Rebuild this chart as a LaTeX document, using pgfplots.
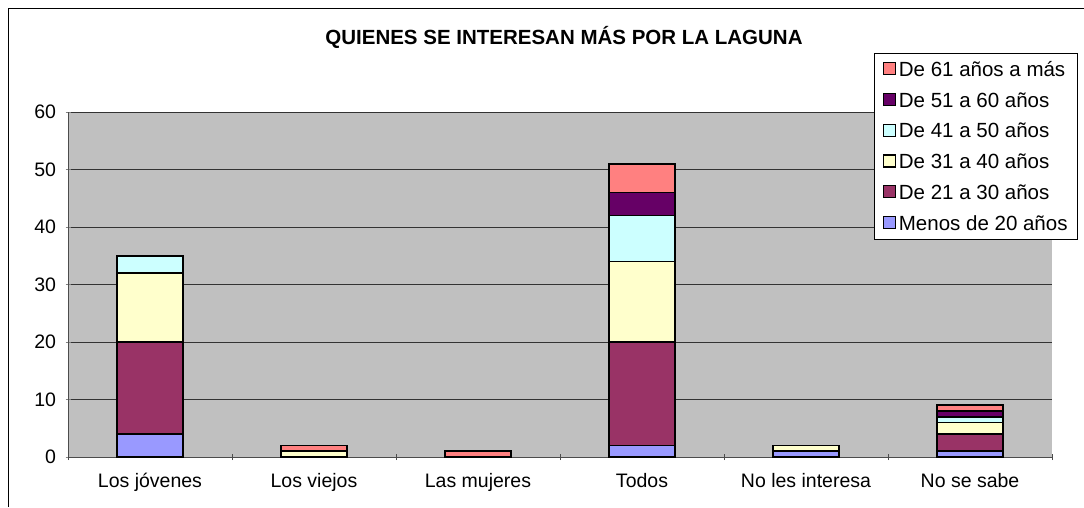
\documentclass[border=0pt]{standalone}
\usepackage{fontspec}
\setmainfont{Liberation Sans}
\usepackage{pgfplots}
\pgfplotsset{compat=1.18}
\definecolor{cA}{RGB}{153,153,255}
\definecolor{cB}{RGB}{153,51,102}
\definecolor{cC}{RGB}{255,255,204}
\definecolor{cD}{RGB}{204,255,255}
\definecolor{cE}{RGB}{102,0,102}
\definecolor{cF}{RGB}{255,128,128}
\definecolor{bg}{RGB}{192,192,192}
\begin{document}
\begin{tikzpicture}[x=1pt,y=1pt]
\useasboundingbox (0,0) rectangle (1084,507);
\draw[black, line width=1pt] (8,0) -- (8,498) -- (1084,498);
\node[font=\bfseries\fontsize{20.5}{24}\selectfont] at (564,469.5) {QUIENES SE INTERESAN MÁS POR LA LAGUNA};
\begin{axis}[
  at={(68pt,50pt)}, anchor=south west,
  scale only axis, width=984pt, height=345pt,
  ymin=0, ymax=60, ytick={0,10,...,60},
  xmin=-0.5, xmax=5.5,
  xtick={0,...,5},
  xticklabels={Los jóvenes,Los viejos,Las mujeres,Todos,No les interesa,No se sabe},
  major x tick style={draw=none},
  extra x ticks={-0.5,0.5,1.5,2.5,3.5,4.5,5.5},
  extra x tick labels={},
  extra x tick style={grid=none, major tick length=6pt, major x tick style={draw=black!70}},
  tick align=outside, major tick length=5pt,
  axis x line=bottom, axis y line=left,
  axis line style={-, black!70, line width=1pt},
  axis background/.style={fill=bg},
  ymajorgrids, major grid style={black!80, line width=0.8pt},
  /pgf/number format/assume math mode=true,
  tick label style={font=\fontsize{19.5}{23}\selectfont},
  xticklabel style={yshift=-10pt},
  yticklabel style={xshift=-6pt},
  ybar stacked, bar width=0.4,
  every axis plot/.append style={draw=black, line width=1.6pt},
  reverse legend,
  legend cell align=left,
  legend style={at={(1.0264,1.171)}, anchor=north east, draw=black, line width=0.8pt,
    font=\fontsize{20.5}{24}\selectfont, row sep=10.5pt, column sep=1pt,
    inner xsep=8pt, inner ysep=6pt,
    nodes={inner sep=2pt}},
  legend image code/.code={\draw[#1, line width=1.2pt] (0pt,-5pt) rectangle (12pt,7pt);},
]
\addplot[fill=cA] coordinates {(0,4) (1,0) (2,0) (3,2) (4,1) (5,1)};
\addplot[fill=cB] coordinates {(0,16) (1,0) (2,0) (3,18) (4,0) (5,3)};
\addplot[fill=cC] coordinates {(0,12) (1,1) (2,0) (3,14) (4,1) (5,2)};
\addplot[fill=cD] coordinates {(0,3) (1,0) (2,0) (3,8) (4,0) (5,1)};
\addplot[fill=cE] coordinates {(0,0) (1,0) (2,0) (3,4) (4,0) (5,1)};
\addplot[fill=cF] coordinates {(0,0) (1,1) (2,1) (3,5) (4,0) (5,1)};
\legend{Menos de 20 años,De 21 a 30 años,De 31 a 40 años,De 41 a 50 años,De 51 a 60 años,De 61 años a más}
\end{axis}
\end{tikzpicture}
\end{document}
